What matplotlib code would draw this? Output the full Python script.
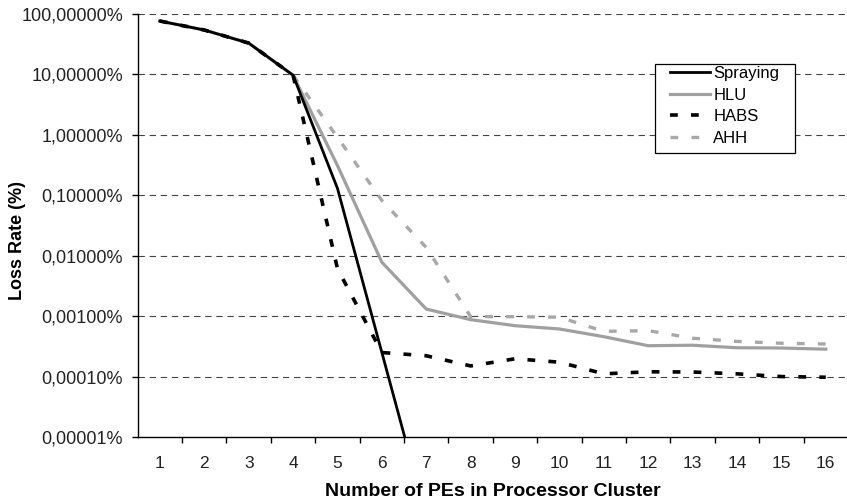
import matplotlib
matplotlib.use("Agg")
import matplotlib.pyplot as plt
from matplotlib.patches import Rectangle
from matplotlib.ticker import FixedLocator, FixedFormatter, NullLocator

plt.rcParams['font.family'] = ['Liberation Sans', 'DejaVu Sans']
plt.rcParams['lines.scale_dashes'] = False

# ---- data (loss rate in %) ----
categories = list(range(1, 17))
spraying_x = [1, 2, 3, 4, 5, 6, 7]
spraying = [76.5, 54.3, 33.0, 9.7, 0.13, 0.00025, 0.00000048]
hlu = [76.5, 54.3, 33.0, 9.7, 0.31, 0.0078, 0.00131, 0.000875, 0.000695,
       0.000613, 0.000457, 0.000324, 0.00033, 0.0003, 0.000297, 0.000284]
habs = [76.5, 54.3, 33.0, 9.7, 0.0061, 0.00025, 0.000221, 0.00015, 0.000197,
        0.000173, 0.000111, 0.00012, 0.000119, 0.000111, 0.0001, 0.0000975]
ahh = [76.5, 54.3, 33.0, 9.7, 0.91, 0.082, 0.0137, 0.00098, 0.00098,
       0.00096, 0.00056, 0.000575, 0.000431, 0.000382, 0.000356, 0.000346]
ytick_vals = [100, 10, 1, 0.1, 0.01, 0.001, 0.0001, 0.00001]
ytick_labels = ["100,00000%", "10,00000%", "1,00000%", "0,10000%",
                "0,01000%", "0,00100%", "0,00010%", "0,00001%"]
series_names = ["Spraying", "HLU", "HABS", "AHH"]

W, H = 847, 501
fig = plt.figure(figsize=(W / 100, H / 100), dpi=100)
ax = fig.add_axes([137.7 / W, 1 - 437 / H, (848 - 137.7) / W, (437 - 14) / H])

ax.set_yscale('log')
ax.set_ylim(1e-5, 100)
ax.set_xlim(0.5, 16.5)

# gridlines
for v in ytick_vals[:-1]:
    ax.axhline(v, color='#444444', lw=0.8, dashes=(4.6, 3.4), zorder=1)

lw_d = (5.6, 9.5)
l1, = ax.plot(spraying_x, spraying, color='black', lw=2.0, zorder=3,
              solid_joinstyle='miter')
l2, = ax.plot(categories, hlu, color='#a0a0a0', lw=2.3, zorder=2.5)
l3, = ax.plot(categories, habs, color='black', lw=2.6, dashes=lw_d, zorder=3)
l4, = ax.plot(categories, ahh, color='#a8a8a8', lw=2.4, dashes=lw_d, zorder=2.4)

# axes styling
for s in ['top', 'right']:
    ax.spines[s].set_visible(False)
for s in ['left', 'bottom']:
    ax.spines[s].set_linewidth(1.0)
    ax.spines[s].set_color('black')

ax.yaxis.set_major_locator(FixedLocator(ytick_vals))
ax.yaxis.set_major_formatter(FixedFormatter(ytick_labels))
ax.yaxis.set_minor_locator(NullLocator())
ax.tick_params(axis='y', which='major', direction='out', length=4.5, width=1,
               pad=6, labelsize=13, colors='black', labelcolor='#222222')

ax.xaxis.set_major_locator(FixedLocator(categories))
ax.xaxis.set_major_formatter(FixedFormatter([str(c) for c in categories]))
ax.xaxis.set_minor_locator(FixedLocator([c + 0.5 for c in categories]))
ax.tick_params(axis='x', which='major', length=0, pad=14, labelsize=12.5,
               labelcolor='#222222')
ax.tick_params(axis='x', which='minor', direction='out', length=4.5, width=1)

ax.set_xlabel("Number of PEs in Processor Cluster", fontsize=14,
              fontweight='bold', labelpad=8)
ax.set_ylabel("Loss Rate (%)", fontsize=13, fontweight='bold')
ax.yaxis.set_label_coords(-(137.7 - 26) / (848 - 137.7), 1 - (240 - 14) / (437 - 14))

# legend box
rect = Rectangle((655 / W, 1 - 153 / H), 140 / W, 89 / H,
                 transform=fig.transFigure, facecolor='white',
                 edgecolor='black', lw=0.9, zorder=4)
ax.add_patch(rect)
rect.set_clip_on(False)

ax_w = 848 - 137.7
ax_h = 437 - 14
leg = ax.legend([l1, l2, l3, l4], series_names,
                loc='upper left',
                bbox_to_anchor=((670 - 137.7) / ax_w, 1 - (66 - 14) / ax_h),
                frameon=False, fontsize=12, borderpad=0, borderaxespad=0,
                handlelength=2.4, handletextpad=0.2, labelspacing=0.40)
leg.set_zorder(5)

fig.savefig("out.png", dpi=100)
